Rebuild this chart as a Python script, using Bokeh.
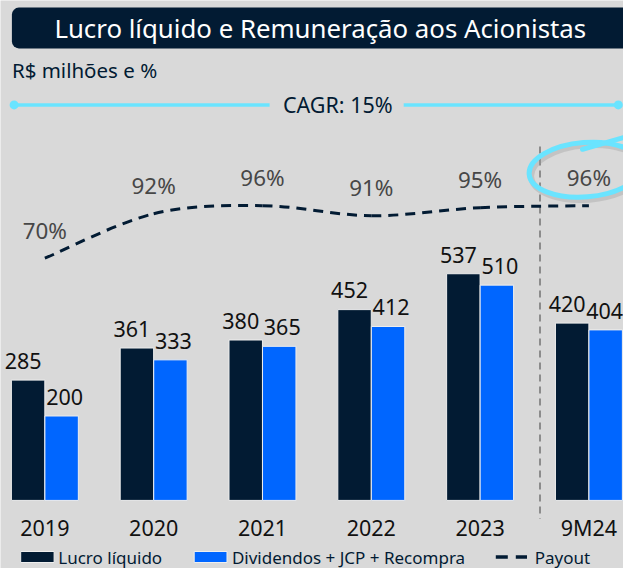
import numpy as np
from bokeh.plotting import figure
from bokeh.models import Range1d, BoxAnnotation
from bokeh.core.properties import value
from bokeh.embed import file_html
from bokeh.resources import INLINE

# ---------------- data ----------------
categories = ["2019", "2020", "2021", "2022", "2023", "9M24"]
lucro_liquido = [285, 361, 380, 452, 537, 420]
remuneracao = [200, 333, 365, 412, 510, 404]
payout = [70, 92, 96, 91, 95, 96]
title_text = "Lucro líquido e Remuneração aos Acionistas"
subtitle_text = "R$ milhões e %"
cagr_text = "CAGR: 15%"
legend_labels = ["Lucro líquido", "Dividendos + JCP + Recompra", "Payout"]

# ---------------- style ----------------
NAVY = "#021b33"
BLUE = "#0066ff"
CYAN = "#6ae4ff"
BG = "#d9d9d9"
FONT = "Noto Sans"
W, H = 623, 568

p = figure(width=W, height=H, output_backend="svg", toolbar_location=None,
           x_range=Range1d(-0.4077, 5.3178), y_range=Range1d(-161.3, 1184.3),
           x_axis_type=None, y_axis_type=None, min_border=0)
p.background_fill_color = BG
p.border_fill_color = BG
p.outline_line_color = None
p.grid.visible = False
p.extra_y_ranges = {"pay": Range1d(-83.37, 197.4), "py": Range1d(H, 0)}
p.extra_x_ranges = {"px": Range1d(0, W)}

x = np.arange(len(categories))
bw = 0.3073
off = 0.154

# title box
p.add_layout(BoxAnnotation(left=11.4, right=W + 30, top=7.1, bottom=47.9,
                           x_range_name="px", y_range_name="py",
                           fill_color=NAVY, fill_alpha=1, line_color=None,
                           border_radius=7, level="underlay"))
p.text(x=[319.8], y=[27.0], text=[title_text], x_range_name="px", y_range_name="py",
       text_align="center", text_baseline="middle", text_color="white",
       text_font=value(FONT), text_font_size="25.8px")
p.text(x=[11.4], y=[69.7], text=[subtitle_text], x_range_name="px", y_range_name="py",
       text_align="left", text_baseline="middle", text_color=NAVY,
       text_font=value(FONT), text_font_size="20.5px")

# CAGR line
p.segment(x0=[13.6, 403.2], x1=[269.1, 617.8], y0=[104.4, 104.4], y1=[104.4, 104.4],
          x_range_name="px", y_range_name="py", line_color=CYAN, line_width=3.5)
p.scatter(x=[13.6, 617.8], y=[104.4, 104.4], x_range_name="px", y_range_name="py",
          size=9, fill_color=CYAN, line_color=None)
p.text(x=[337.3], y=[103.8], text=[cagr_text], x_range_name="px", y_range_name="py",
       text_align="center", text_baseline="middle", text_color=NAVY,
       text_font=value(FONT), text_font_size="21.5px")

# separator
p.segment(x0=[539.5], x1=[539.5], y0=[145.9], y1=[518.4], x_range_name="px", y_range_name="py",
          line_color="#8c8c8c", line_width=2, line_dash="7 5")

# bars
p.vbar(x=x - off, top=lucro_liquido, width=bw, bottom=0, fill_color=NAVY,
       line_color="#eeeeee", line_width=1)
p.vbar(x=x + off, top=remuneracao, width=bw, bottom=0, fill_color=BLUE,
       line_color="#eeeeee", line_width=1)

p.text(x=x - off, y=lucro_liquido, text=[str(v) for v in lucro_liquido],
       x_offset=-5, y_offset=-19.2, text_align="center", text_baseline="middle",
       text_color="#111111", text_font=value(FONT), text_font_size="21.5px")
p.text(x=x + off, y=remuneracao, text=[str(v) for v in remuneracao],
       x_offset=[3, 3, 3, 3, 3, -1], y_offset=-19.2, text_align="center",
       text_baseline="middle", text_color="#111111",
       text_font=value(FONT), text_font_size="21.5px")

# category labels
p.text(x=x, y=[0] * len(categories), text=categories, y_offset=27.2,
       text_align="center", text_baseline="middle", text_color="#111111",
       text_font=value(FONT), text_font_size="21.5px")

# payout smooth dashed line (Catmull-Rom -> bezier)
px_ = x.astype(float)
py_ = np.array(payout, dtype=float)
n = len(px_)
x0s, y0s, x1s, y1s, cx0, cy0, cx1, cy1 = [], [], [], [], [], [], [], []
for i in range(n - 1):
    im1 = max(i - 1, 0)
    ip2 = min(i + 2, n - 1)
    x0s.append(px_[i]); y0s.append(py_[i])
    x1s.append(px_[i + 1]); y1s.append(py_[i + 1])
    cx0.append(px_[i] + (px_[i + 1] - px_[im1]) / 6)
    cy0.append(py_[i] + (py_[i + 1] - py_[im1]) / 6)
    cx1.append(px_[i + 1] - (px_[ip2] - px_[i]) / 6)
    cy1.append(py_[i + 1] - (py_[ip2] - py_[i]) / 6)
p.bezier(x0=x0s, y0=y0s, x1=x1s, y1=y1s, cx0=cx0, cy0=cy0, cx1=cx1, cy1=cy1,
         y_range_name="pay", line_color=NAVY, line_width=3, line_dash="10 7")

p.text(x=x, y=payout, text=[f"{v}%" for v in payout], y_range_name="pay",
       y_offset=-28.2, text_align="center", text_baseline="middle",
       text_color="#474747", text_font=value(FONT), text_font_size="22.4px")

# highlight ellipse
p.ellipse(x=[587], y=[172], width=113, height=54.5, angle=0.08,
          x_range_name="px", y_range_name="py", fill_color=None,
          line_color="#9a9a9a", line_alpha=0.35, line_width=6)
p.ellipse(x=[585], y=[169.2], width=113, height=54.5, angle=0.08,
          x_range_name="px", y_range_name="py", fill_color=None,
          line_color=CYAN, line_width=5)
p.line(x=[582, 623], y=[148.8, 137.1], x_range_name="px", y_range_name="py",
       line_color=CYAN, line_width=5, line_cap="round")

# legend
LEG_Y = 556.5
p.quad(left=[20.2, 193.7], right=[53.6, 226.5], top=[LEG_Y - 5.5, LEG_Y - 5.5],
       bottom=[LEG_Y + 5.5, LEG_Y + 5.5],
       x_range_name="px", y_range_name="py", fill_color=[NAVY, BLUE],
       line_color="#eeeeee", line_width=1)
p.segment(x0=[495.3], x1=[526.5], y0=[LEG_Y], y1=[LEG_Y], x_range_name="px", y_range_name="py",
          line_color=NAVY, line_width=3.5, line_dash="12 8")
p.text(x=[57.8, 231.4, 534.3], y=[LEG_Y] * 3, text=legend_labels,
       x_range_name="px", y_range_name="py", text_align="left",
       text_baseline="middle", text_color=NAVY,
       text_font=value(FONT), text_font_size="17px")

open("out.html", "w").write(file_html(p, INLINE))
